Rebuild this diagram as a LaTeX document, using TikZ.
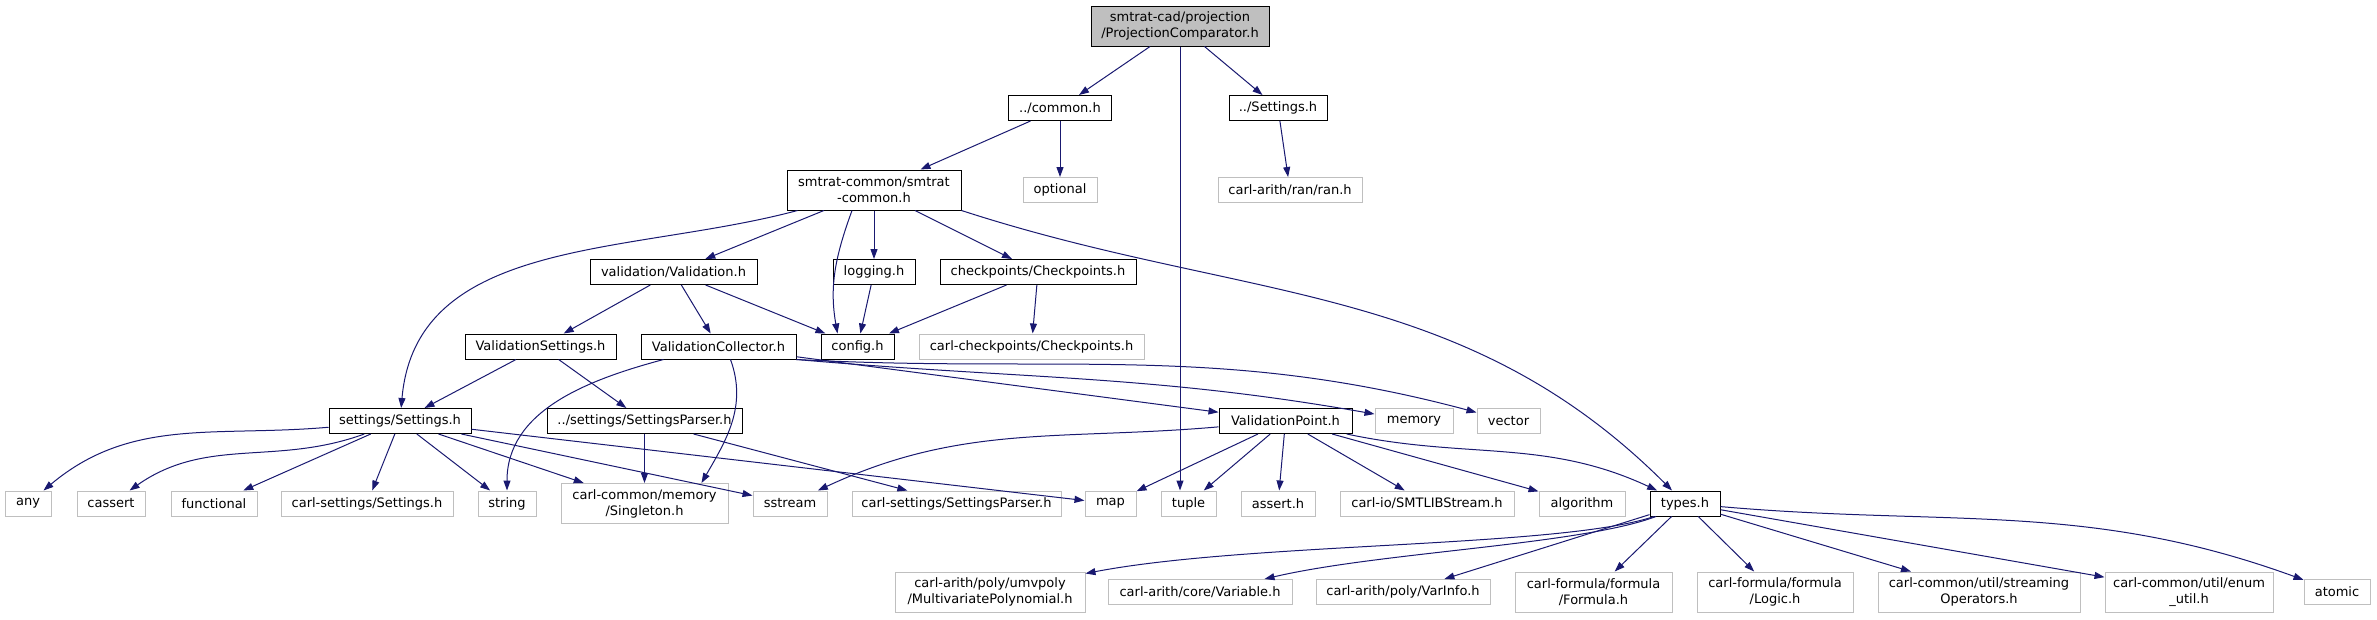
\documentclass[tikz,border=0pt]{standalone}
\usepackage{fontspec}
\setmainfont{DejaVu Sans}
\usetikzlibrary{arrows.meta}
\definecolor{edgeblue}{HTML}{191970}
\definecolor{boxgray}{HTML}{BFBFBF}

\begin{document}
\begin{tikzpicture}[x=1pt, y=-1pt, >={Triangle[length=10pt,width=7pt]},
  hdr/.style={draw=black, fill=white, line width=1pt, minimum height=25pt, inner sep=0pt,
    align=center, font=\fontsize{13}{16}\selectfont},
  sys/.style={hdr, draw=boxgray},
  two/.style={minimum height=40pt},
  dep/.style={->, edgeblue, line width=1pt}]
  \useasboundingbox (0,0) rectangle (2377,619);

  % top: the header itself and its direct includes
  \node[hdr, two, fill=boxgray, minimum width=178pt] (R) at (1180,26) {smtrat-cad/projection\\/ProjectionComparator.h};
  \node[hdr, minimum width=103pt] (C) at (1060,108) {../common.h};
  \node[hdr, minimum width=98pt] (S) at (1278,108) {../Settings.h};
  \node[hdr, two, minimum width=174pt] (SC) at (874,190) {smtrat-common/smtrat\\-common.h};
  \node[sys, minimum width=74pt] (OPT) at (1060,190) {optional};
  \node[sys, minimum width=144pt] (RAN) at (1290,190) {carl-arith/ran/ran.h};

  % smtrat-common layer
  \node[hdr, minimum width=167pt] (VAL) at (673.5,272) {validation/Validation.h};
  \node[hdr, minimum width=82pt] (LOG) at (874,272) {logging.h};
  \node[hdr, minimum width=196pt] (CP) at (1038,272) {checkpoints/Checkpoints.h};
  \node[hdr, minimum width=151pt] (VS) at (540.5,346.5) {ValidationSettings.h};
  \node[hdr, minimum width=155pt] (VC) at (718.5,346.5) {ValidationCollector.h};
  \node[hdr, minimum width=73pt] (CFG) at (857.5,346.5) {config.h};
  \node[sys, minimum width=225pt] (CCP) at (1031.5,346.5) {carl-checkpoints/Checkpoints.h};

  % settings and validation points
  \node[hdr, minimum width=142pt] (SET) at (400,421) {settings/Settings.h};
  \node[hdr, minimum width=195pt] (SP) at (644.5,421) {../settings/SettingsParser.h};
  \node[hdr, minimum width=133pt] (VP) at (1285.5,421) {ValidationPoint.h};
  \node[sys, minimum width=78pt] (MEM) at (1414,421) {memory};
  \node[sys, minimum width=63pt] (VEC) at (1508.5,421) {vector};

  % standard and carl headers
  \node[sys, minimum width=46pt] (ANY) at (28,503.5) {any};
  \node[sys, minimum width=68pt] (CAS) at (111,503.5) {cassert};
  \node[sys, minimum width=86pt] (FUN) at (214,503.5) {functional};
  \node[sys, minimum width=172pt] (CSET) at (367,503.5) {carl-settings/Settings.h};
  \node[sys, minimum width=58pt] (STR) at (507,503.5) {string};
  \node[sys, two, minimum width=167pt] (SGL) at (644.5,503.5) {carl-common/memory\\/Singleton.h};
  \node[sys, minimum width=74pt] (SST) at (790,503.5) {sstream};
  \node[sys, minimum width=209pt] (CSP) at (956.5,503.5) {carl-settings/SettingsParser.h};
  \node[sys, minimum width=51pt] (MAP) at (1110.5,503.5) {map};
  \node[sys, minimum width=55pt] (TUP) at (1188.5,503.5) {tuple};
  \node[sys, minimum width=74pt] (AST) at (1278,503.5) {assert.h};
  \node[sys, minimum width=174pt] (SMT) at (1427,503.5) {carl-io/SMTLIBStream.h};
  \node[sys, minimum width=86pt] (ALG) at (1582,503.5) {algorithm};
  \node[hdr, minimum width=70pt] (TYP) at (1685,503.5) {types.h};

  % includes of types.h
  \node[sys, two, minimum width=190pt] (MVP) at (990,592) {carl-arith/poly/umvpoly\\/MultivariatePolynomial.h};
  \node[sys, minimum width=184pt] (VAR) at (1200,592) {carl-arith/core/Variable.h};
  \node[sys, minimum width=174pt] (VI) at (1403,592) {carl-arith/poly/VarInfo.h};
  \node[sys, two, minimum width=157pt] (FOR) at (1593.5,592) {carl-formula/formula\\/Formula.h};
  \node[sys, two, minimum width=156pt] (LGC) at (1775,592) {carl-formula/formula\\/Logic.h};
  \node[sys, two, minimum width=202pt] (SOP) at (1979,592) {carl-common/util/streaming\\Operators.h};
  \node[sys, two, minimum width=168pt] (ENU) at (2189,592) {carl-common/util/enum\\\_util.h};
  \node[sys, minimum width=66pt] (ATO) at (2337,592) {atomic};

  % edges
  \draw[dep] (R) -- (C);
  \draw[dep] (R) -- (S);
  \draw[dep] (R) -- (R |- TUP.north);
  \draw[dep] (C) -- (SC);
  \draw[dep] (C) -- (OPT);
  \draw[dep] (S) -- (RAN);

  \draw[dep] (SC) -- (VAL);
  \draw[dep] (SC) -- (LOG);
  \draw[dep] (SC) -- (CP);
  \draw[dep] ([xshift=-22pt]SC.south) to[out=250,in=100] ([xshift=-20pt]CFG.north);
  \draw[dep] (SC) to[out=195,in=85] (SET);
  \draw[dep] (SC.south east) to[out=-18,in=135] (TYP);

  \draw[dep] (VAL) -- (VS);
  \draw[dep] (VAL) -- (VC);
  \draw[dep] (VAL) -- (CFG);
  \draw[dep] (LOG) -- (CFG);
  \draw[dep] (CP) -- (CFG);
  \draw[dep] (CP) -- (CCP);

  \draw[dep] (VS) -- (SET);
  \draw[dep] (VS) -- (SP);
  \draw[dep] ([xshift=-55pt]VC.south) to[out=195,in=90] (STR);
  \draw[dep] ([xshift=12pt]VC.south) to[out=-70,in=60] ([xshift=57pt]SGL.north);
  \draw[dep] (VC) -- (VP);
  \draw[dep] (VC.south east) to[out=-5,in=170] (MEM);
  \draw[dep] (VC.south east) to[out=-3,in=165] (VEC);

  \draw[dep] (SET) to[out=185,in=40] (ANY);
  \draw[dep] (SET) to[out=200,in=35] (CAS);
  \draw[dep] (SET) -- (FUN);
  \draw[dep] (SET) -- (CSET);
  \draw[dep] (SET) -- (STR);
  \draw[dep] (SET) -- (SGL);
  \draw[dep] (SET) -- (SST);
  \draw[dep] (SET) -- (MAP);
  \draw[dep] (SP) -- (SGL);
  \draw[dep] (SP) -- (CSP);

  \draw[dep] (VP) to[out=185,in=25] (SST);
  \draw[dep] (VP) -- (MAP);
  \draw[dep] (VP) -- (TUP);
  \draw[dep] (VP) -- (AST);
  \draw[dep] (VP) -- (SMT);
  \draw[dep] (VP) -- (ALG);
  \draw[dep] (VP) to[out=-12,in=155] (TYP);

  \draw[dep] ([xshift=-31pt]TYP.south) .. controls (1560,548) and (1250,542) .. ([yshift=-2pt]MVP.north east);
  \draw[dep] ([xshift=-29pt]TYP.south) .. controls (1580,545) and (1380,552) .. ([xshift=-28pt]VAR.north east);
  \draw[dep] (TYP) -- (VI);
  \draw[dep] (TYP) -- (FOR);
  \draw[dep] (TYP) -- (LGC);
  \draw[dep] (TYP) -- (SOP);
  \draw[dep] (TYP) -- (ENU);
  \draw[dep] (TYP) to[out=-5,in=160] (ATO);
\end{tikzpicture}
\end{document}
